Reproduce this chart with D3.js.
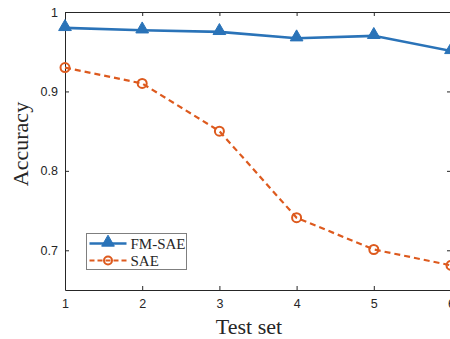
<!DOCTYPE html>
<html>
<head>
<meta charset="utf-8">
<script src="https://cdn.jsdelivr.net/npm/d3@7"></script>
<style>
  body { margin: 0; background: #fff; }
</style>
</head>
<body>
<script>
const testSets = [1, 2, 3, 4, 5, 6];
const fmSae = [0.980, 0.977, 0.975, 0.967, 0.970, 0.951];
const sae = [0.930, 0.910, 0.850, 0.741, 0.701, 0.681];
const yTicks = [0.7, 0.8, 0.9, 1];
const yTickLabels = ['0.7', '0.8', '0.9', '1'];

const width = 450, height = 339;
const margin = {top: 12, right: -1, bottom: 49, left: 65};

const svg = d3.select('body').append('svg')
  .attr('width', width)
  .attr('height', height);

const x = d3.scaleLinear().domain([1, 6]).range([margin.left, width - margin.right]);
const y = d3.scaleLinear().domain([0.65, 1]).range([height - margin.bottom, margin.top]);

const axisColor = '#262626';
const tickFont = '"Liberation Sans", Arial, sans-serif';
const serif = '"Liberation Serif", "Times New Roman", serif';

// axes, ticks inward like matlab
const gx = svg.append('g')
  .attr('transform', `translate(0,${y(0.65)})`)
  .call(d3.axisBottom(x).tickValues(testSets).tickFormat(d3.format('d')).tickSizeInner(-4).tickSizeOuter(0).tickPadding(9));
const gxTop = svg.append('g')
  .attr('transform', `translate(0,${y(1)})`)
  .call(d3.axisTop(x).tickValues(testSets).tickFormat('').tickSizeInner(-4).tickSizeOuter(0));
const gy = svg.append('g')
  .attr('transform', `translate(${x(1)},0)`)
  .call(d3.axisLeft(y).tickValues(yTicks).tickFormat((d, i) => yTickLabels[i]).tickSizeInner(-4).tickSizeOuter(0).tickPadding(7));
const gyRight = svg.append('g')
  .attr('transform', `translate(${x(6)},0)`)
  .call(d3.axisRight(y).tickValues(yTicks).tickFormat('').tickSizeInner(-4).tickSizeOuter(0));

[gx, gxTop, gy, gyRight].forEach(g => {
  g.selectAll('path, line').attr('stroke', axisColor).attr('stroke-width', 1);
  g.selectAll('text').attr('fill', axisColor).style('font-family', tickFont).style('font-size', '12.5px');
});

// lines
const lineFm = d3.line().x((d, i) => x(testSets[i])).y(d => y(d));

svg.append('path')
  .datum(fmSae)
  .attr('d', lineFm)
  .attr('fill', 'none')
  .attr('stroke', '#2a73b8')
  .attr('stroke-width', 2.6);

svg.append('path')
  .datum(sae)
  .attr('d', lineFm)
  .attr('fill', 'none')
  .attr('stroke', '#dd5a1e')
  .attr('stroke-width', 2.2)
  .attr('stroke-dasharray', '6,4');

const tri = d3.symbol().type(d3.symbolTriangle).size(70);

svg.selectAll('path.tri')
  .data(fmSae)
  .enter().append('path')
  .attr('class', 'tri')
  .attr('d', tri)
  .attr('transform', (d, i) => `translate(${x(testSets[i])},${y(d) - 1})`)
  .attr('fill', '#2a73b8')
  .attr('stroke', '#2a73b8')
  .attr('stroke-width', 1);

svg.selectAll('circle.mk')
  .data(sae)
  .enter().append('circle')
  .attr('class', 'mk')
  .attr('cx', (d, i) => x(testSets[i]))
  .attr('cy', d => y(d))
  .attr('r', 4.5)
  .attr('fill', 'none')
  .attr('stroke', '#dd5a1e')
  .attr('stroke-width', 2);

// axis labels
svg.append('text')
  .attr('x', 249)
  .attr('y', 334)
  .attr('text-anchor', 'middle')
  .style('font-family', serif)
  .style('font-size', '22px')
  .attr('fill', axisColor)
  .text('Test set');

svg.append('text')
  .attr('transform', `translate(28,144) rotate(-90)`)
  .attr('text-anchor', 'middle')
  .style('font-family', serif)
  .style('font-size', '22px')
  .attr('fill', axisColor)
  .text('Accuracy');

// legend
const legend = svg.append('g').attr('transform', 'translate(86.5,233.5)');
legend.append('rect')
  .attr('width', 100).attr('height', 36)
  .attr('fill', '#fff').attr('stroke', '#7f7f7f').attr('stroke-width', 1);

const legendItems = [
  {name: 'FM-SAE', color: '#2a73b8', dash: null, mark: 'tri', w: 2.6},
  {name: 'SAE', color: '#dd5a1e', dash: '5,3', mark: 'circle', w: 2.2}
];

legendItems.forEach((it, i) => {
  const cy = 10 + i * 17;
  const g = legend.append('g');
  g.append('line')
    .attr('x1', 3).attr('x2', 40).attr('y1', cy).attr('y2', cy)
    .attr('stroke', it.color).attr('stroke-width', it.w)
    .attr('stroke-dasharray', it.dash);
  if (it.mark === 'tri') {
    g.append('path').attr('d', tri).attr('transform', `translate(21.5,${cy - 1})`)
      .attr('fill', it.color).attr('stroke', it.color);
  } else {
    g.append('circle').attr('cx', 21.5).attr('cy', cy).attr('r', 4)
      .attr('fill', 'none').attr('stroke', it.color).attr('stroke-width', 2);
  }
  g.append('text')
    .attr('x', 44).attr('y', cy + 5)
    .style('font-family', serif)
    .style('font-size', '15px')
    .attr('fill', axisColor)
    .text(it.name);
});
</script>
</body>
</html>
